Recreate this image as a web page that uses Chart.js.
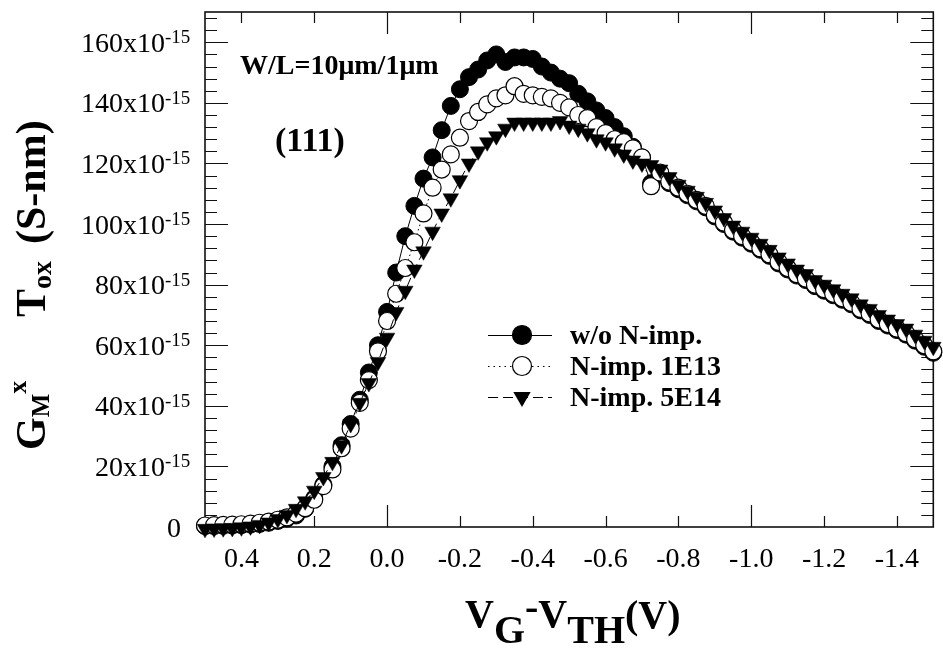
<!DOCTYPE html>
<html>
<head>
<meta charset="utf-8">
<script src="https://cdn.jsdelivr.net/npm/chart.js@4.4.1/dist/chart.umd.min.js"></script>
<style>
  html, body { margin: 0; padding: 0; background: #ffffff; }
  canvas { display: block; }
</style>
</head>
<body>
<canvas id="gm" width="943" height="649"></canvas>
<script>
// Gate overdrive V_G - V_TH (V)
const overdrive = [
  0.5, 0.475, 0.45, 0.425, 0.4, 0.375, 0.35, 0.325, 0.3, 0.275,
  0.25, 0.225, 0.2, 0.175, 0.15, 0.125, 0.1, 0.075, 0.05, 0.025,
  0, -0.025, -0.05, -0.075, -0.1, -0.125, -0.15, -0.175, -0.2, -0.225,
  -0.25, -0.275, -0.3, -0.325, -0.35, -0.375, -0.4, -0.425, -0.45, -0.475,
  -0.5, -0.525, -0.55, -0.575, -0.6, -0.625, -0.65, -0.675, -0.7, -0.725,
  -0.75, -0.775, -0.8, -0.825, -0.85, -0.875, -0.9, -0.925, -0.95, -0.975,
  -1.0, -1.025, -1.05, -1.075, -1.1, -1.125, -1.15, -1.175, -1.2, -1.225,
  -1.25, -1.275, -1.3, -1.325, -1.35, -1.375, -1.4, -1.425, -1.45, -1.475,
  -1.5
];

// G_M x T_ox in units of 1e-15 S-nm
const gmToxNoImplant = [
  0.3, 0.3, 0.4, 0.5, 0.6, 0.8, 1.0, 1.4, 2.0, 2.8,
  3.8, 6.0, 9.5, 14, 20, 27, 34, 42, 51, 60,
  71, 84, 96, 106, 115, 122, 131, 139, 144.5, 148.5,
  151, 154, 156, 153.5, 155, 155, 154.5, 152, 150, 148,
  146.5, 143, 140.5, 137.5, 135, 132, 129, 125.5, 122, 113.5,
  116.5, 113.5, 111.5, 109.5, 107.5, 105.5, 102.5, 100, 97.5, 95.5,
  93.5, 91.5, 89.5, 87, 85, 83, 81.5, 79.5, 78, 76.5,
  75, 73.5, 71.5, 70, 68, 66.5, 65, 63.5, 61.5, 59.5,
  57.5
];

const gmToxImplant1E13 = [
  0.5, 0.6, 0.7, 0.8, 0.9, 1.1, 1.4, 1.8, 2.4, 3.2,
  4.4, 6.2, 9.0, 13.5, 19, 26, 32.5, 41, 48.5, 58,
  68, 77, 85.5, 94, 103.5, 112, 118, 123, 128.5, 134,
  137, 139.5, 141.5, 142.5, 145.5, 143, 142.5, 142, 141.5, 140,
  138.5, 136, 135, 132, 130, 128, 127, 125, 122, 112.5,
  117, 114, 112, 110, 108, 106, 103, 100.5, 98, 96,
  94, 92, 90, 87.5, 85.5, 83.5, 82, 80, 78.5, 77,
  75.5, 74, 72, 70.5, 68.5, 67, 65.5, 64, 62, 60,
  58
];

const gmToxImplant5E14 = [
  -0.6, -0.5, -0.4, -0.3, -0.1, 0.2, 0.7, 1.5, 2.6, 4.0,
  6.0, 8.5, 12, 16.5, 21.5, 27, 34, 41, 47.5, 54.5,
  62.5, 71, 78, 85, 91, 97.5, 103.5, 108.5, 114.5, 120,
  124, 127, 129, 131.5, 133.5, 133.5, 133.5, 133.5, 133.5, 134,
  132.5, 131.5, 130, 128, 127, 125, 123, 121, 120, 119.5,
  118, 115.5, 113, 111, 109, 107, 104.5, 102, 99.5, 97.5,
  95.5, 93.5, 91.5, 89, 87, 85, 83.5, 81.5, 80, 78.5,
  77, 75.5, 73.5, 72, 70, 68.5, 67, 65.5, 63.5, 61.5,
  59.5
];

const seriesNames = ['w/o N-imp.', 'N-imp. 1E13', 'N-imp. 5E14'];

const xTickValues = [0.4, 0.2, 0.0, -0.2, -0.4, -0.6, -0.8, -1.0, -1.2, -1.4];
const xTickLabels = ['0.4', '0.2', '0.0', '-0.2', '-0.4', '-0.6', '-0.8', '-1.0', '-1.2', '-1.4'];
const yTickValues = [0, 20, 40, 60, 80, 100, 120, 140, 160];
const yTickLabels = ['0', '20', '40', '60', '80', '100', '120', '140', '160'];

const SERIF = '"Liberation Serif", "Times New Roman", serif';

function points(ys) {
  return overdrive.map((x, i) => ({ x: x, y: ys[i] }));
}

// Frame, inward ticks, axis text, annotations and legend
const plotDecor = {
  id: 'plotDecor',
  beforeDatasetsDraw(chart) {
    const ctx = chart.ctx;
    const a = chart.chartArea;
    const xs = chart.scales.x, ys = chart.scales.y;
    ctx.save();
    ctx.strokeStyle = '#111';
    ctx.lineWidth = 1.2;
    // x ticks (top and bottom)
    xTickValues.forEach(v => {
      const px = Math.round(xs.getPixelForValue(v)) + 0.5;
      const len = (v === 0 || v === -1.0) ? 22 : 11;
      ctx.beginPath();
      ctx.moveTo(px, a.bottom); ctx.lineTo(px, a.bottom - len);
      ctx.moveTo(px, a.top); ctx.lineTo(px, a.top + len);
      ctx.stroke();
    });
    // y ticks (left and right), minor every 4, major every 20
    for (let v = 4; v <= 168; v += 4) {
      const py = Math.round(ys.getPixelForValue(v)) + 0.5;
      const len = (v % 20 === 0) ? 23 : 12;
      ctx.beginPath();
      ctx.moveTo(a.left, py); ctx.lineTo(a.left + len, py);
      ctx.moveTo(a.right, py); ctx.lineTo(a.right - len, py);
      ctx.stroke();
    }
    // frame
    ctx.lineWidth = 1.6;
    ctx.strokeStyle = '#111';
    ctx.strokeRect(a.left, a.top, a.right - a.left, a.bottom - a.top);
    ctx.restore();
  },
  afterDatasetsDraw(chart) {
    const ctx = chart.ctx;
    const xs = chart.scales.x, ys = chart.scales.y;
    ctx.save();
    ctx.fillStyle = '#000';

    // y tick labels with power-of-ten exponent
    yTickValues.forEach((v, i) => {
      const py = ys.getPixelForValue(v);
      ctx.font = '28px ' + SERIF;
      ctx.textAlign = 'right';
      ctx.textBaseline = 'alphabetic';
      if (v === 0) {
        ctx.fillText(yTickLabels[i], 181, py + 10);
        return;
      }
      ctx.fillText(yTickLabels[i] + 'x10', 165, py + 9.5);
      ctx.font = '19px ' + SERIF;
      ctx.textAlign = 'left';
      ctx.fillText('-15', 165, py + 1);
    });

    // x tick labels
    ctx.font = '28px ' + SERIF;
    ctx.textAlign = 'center';
    ctx.textBaseline = 'alphabetic';
    xTickValues.forEach((v, i) => {
      ctx.fillText(xTickLabels[i], xs.getPixelForValue(v), 567);
    });

    // x axis title: V_G-V_TH(V)
    ctx.textAlign = 'left';
    let x = 465;
    const big = 'bold 40px ' + SERIF;
    const pieces = [
      ['V', 627], ['G', 643], ['-', 620], ['V', 627], ['TH', 643], ['(V)', 628]
    ];
    pieces.forEach(([t, base]) => {
      ctx.font = big;
      ctx.fillText(t, x, base);
      x += ctx.measureText(t).width;
    });

    // y axis title: G_M x T_ox (S-nm), rotated
    ctx.save();
    ctx.translate(45, 0);
    ctx.rotate(-Math.PI / 2);
    const yPieces = [
      ['G', 'bold 42px', 0, 450],
      ['M', 'bold 25px', 4, null],
      ['x', 'bold 26px', -19, null],
      ['T', 'bold 42px', 0, 317],
      ['ox', 'bold 28px', 6, null],
      ['(S-nm)', 'bold 42px', 0, 244]
    ];
    let u = 0;
    yPieces.forEach(([t, f, off, startY]) => {
      if (startY !== null) u = -startY;
      ctx.font = f + ' ' + SERIF;
      ctx.fillText(t, u, off);
      u += ctx.measureText(t).width;
    });
    ctx.restore();

    // annotations
    ctx.font = 'bold 28px ' + SERIF;
    ctx.fillText('W/L=10\u03bcm/1\u03bcm', 240, 74);
    ctx.font = 'bold 34px ' + SERIF;
    ctx.fillText('(111)', 275, 151);

    // legend
    const rows = [335, 366, 397];
    const lx0 = 488, lx1 = 552, mx = 522;
    rows.forEach((ry, i) => {
      ctx.save();
      ctx.strokeStyle = '#000';
      ctx.lineWidth = 1;
      if (i === 1) ctx.setLineDash([1.5, 4]);
      if (i === 2) ctx.setLineDash([10, 5]);
      ctx.beginPath();
      ctx.moveTo(lx0, ry + 0.5); ctx.lineTo(lx1, ry + 0.5);
      ctx.stroke();
      ctx.setLineDash([]);
      ctx.lineWidth = 1.2;
      if (i === 0 || i === 1) {
        ctx.beginPath();
        ctx.arc(mx, ry, 9.5, 0, Math.PI * 2);
        ctx.fillStyle = i === 0 ? '#000' : '#fff';
        ctx.fill();
        ctx.stroke();
      } else {
        const r = 10;
        ctx.beginPath();
        ctx.moveTo(mx - r * 0.866, ry - r * 0.5);
        ctx.lineTo(mx + r * 0.866, ry - r * 0.5);
        ctx.lineTo(mx, ry + r);
        ctx.closePath();
        ctx.fillStyle = '#000';
        ctx.fill();
      }
      ctx.restore();
      ctx.fillStyle = '#000';
      ctx.font = 'bold 28px ' + SERIF;
      ctx.textAlign = 'left';
      ctx.fillText(seriesNames[i], 570, ry + 9);
    });

    ctx.restore();
  }
};

new Chart(document.getElementById('gm'), {
  type: 'line',
  data: {
    datasets: [
      {
        label: seriesNames[0],
        data: points(gmToxNoImplant),
        borderColor: '#000',
        borderWidth: 1,
        pointStyle: 'circle',
        pointRadius: 8.5,
        pointBackgroundColor: '#000',
        pointBorderColor: '#000',
        pointBorderWidth: 1,
        order: 3,
        clip: false
      },
      {
        label: seriesNames[1],
        data: points(gmToxImplant1E13),
        borderColor: '#000',
        borderWidth: 1,
        borderDash: [1.5, 3],
        pointStyle: 'circle',
        pointRadius: 8.5,
        pointBackgroundColor: '#fff',
        pointBorderColor: '#000',
        pointBorderWidth: 1.2,
        order: 2,
        clip: false
      },
      {
        label: seriesNames[2],
        data: points(gmToxImplant5E14),
        borderColor: '#000',
        borderWidth: 1,
        borderDash: [10, 5],
        pointStyle: 'triangle',
        pointRotation: 180,
        pointRadius: 9,
        pointBackgroundColor: '#000',
        pointBorderColor: '#000',
        pointBorderWidth: 0.5,
        order: 1,
        clip: false
      }
    ]
  },
  options: {
    responsive: false,
    animation: false,
    devicePixelRatio: 1,
    layout: { padding: { left: 205, top: 12, right: 1, bottom: 122 } },
    elements: { line: { tension: 0, fill: false } },
    scales: {
      x: { type: 'linear', min: -1.5, max: 0.5, reverse: true, display: false },
      y: { type: 'linear', min: 0, max: 170, display: false }
    },
    plugins: {
      legend: { display: false },
      tooltip: { enabled: false },
      title: { display: false }
    }
  },
  plugins: [plotDecor]
});
</script>
</body>
</html>
